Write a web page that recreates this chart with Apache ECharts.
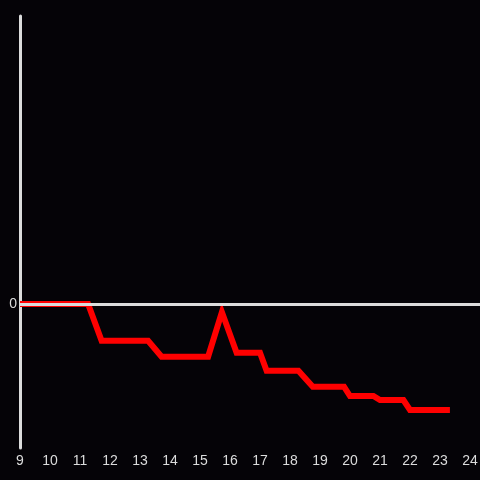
<!DOCTYPE html>
<html>
<head>
<meta charset="utf-8">
<script src="https://cdn.jsdelivr.net/npm/echarts@6/dist/echarts.min.js"></script>
<style>
  html, body { margin: 0; padding: 0; background: #050307; }
  #chart { width: 480px; height: 480px; }
</style>
</head>
<body>
<div id="chart"></div>
<script>
// hour of day vs change
const hours = [9, 11.27, 11.72, 13.27, 13.72, 15.27, 15.73, 16.22, 17.0, 17.22, 18.28, 18.76, 19.8, 20.0, 20.78, 21.0, 21.78, 22.0, 23.33];
const values = [0, 0, -25.5, -25.5, -36.6, -36.6, -5.6, -33.8, -33.8, -46.3, -46.3, -57.4, -57.4, -63.9, -63.9, -66.7, -66.7, -73.6, -73.6];
const xTicks = [9, 10, 11, 12, 13, 14, 15, 16, 17, 18, 19, 20, 21, 22, 23, 24];

const chart = echarts.init(document.getElementById('chart'));
const labelColor = '#dcdcdc';
chart.setOption({
  backgroundColor: '#050307',
  animation: false,
  grid: { left: 20, right: 0, top: 16, bottom: 32, outerBoundsMode: 'none', containLabel: false },
  xAxis: {
    type: 'value', min: 9, max: 24.333, interval: 1,
    axisLine: { show: false }, axisTick: { show: false }, splitLine: { show: false },
    axisLabel: {
      color: labelColor, fontSize: 14, fontFamily: 'Liberation Sans', margin: 6,
      formatter: v => xTicks.includes(v) ? String(v) : ''
    }
  },
  yAxis: {
    type: 'value', min: -100, max: 200, interval: 100,
    axisLine: { show: true, lineStyle: { color: labelColor, width: 3 } },
    axisTick: { show: false }, splitLine: { show: false },
    axisLabel: {
      color: labelColor, fontSize: 14, fontFamily: 'Liberation Sans', margin: 3,
      formatter: v => v === 0 ? '0' : ''
    }
  },
  series: [
    {
      type: 'line', data: [], z: 1,
      markLine: {
        silent: true, symbol: 'none', animation: false,
        label: { show: false },
        lineStyle: { color: labelColor, width: 3, type: 'solid' },
        data: [{ yAxis: 0 }]
      }
    },
    {
      type: 'line', z: 3,
      data: hours.map((h, i) => [h, values[i]]),
      showSymbol: false,
      lineStyle: { color: '#ff0000', width: 6, join: 'miter' }
    }
  ]
});
</script>
</body>
</html>
